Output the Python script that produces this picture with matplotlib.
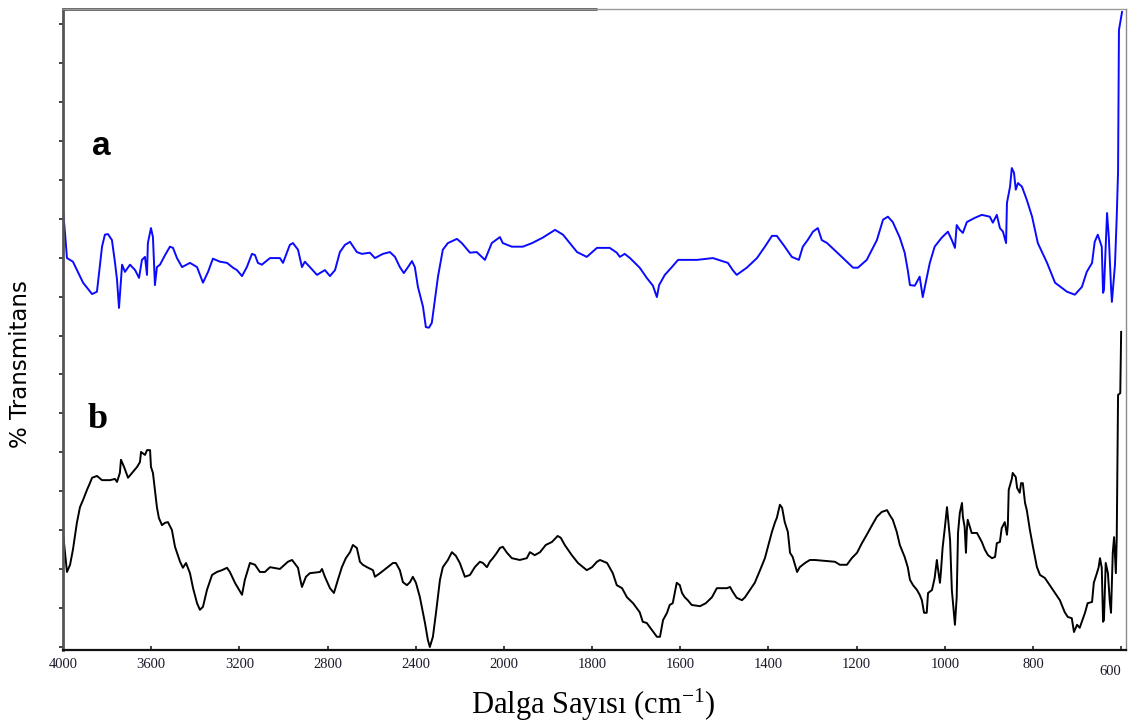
import numpy as np
import matplotlib
matplotlib.use("Agg")
import matplotlib.pyplot as plt

# FTIR spectra (wavenumber in cm-1, relative transmittance)
wn_a = [4000, 3991, 3982, 3955, 3909, 3868, 3846, 3823, 3810, 3796, 3778, 3764, 3755, 3746,
        3732, 3719, 3696, 3673, 3655, 3642, 3628, 3619, 3615, 3601, 3592, 3583, 3574, 3560,
        3537, 3515, 3501, 3483, 3460, 3424, 3392, 3365, 3342, 3320, 3288, 3256, 3229, 3211,
        3188, 3166, 3143, 3129, 3116, 3098, 3061, 3016, 3002, 2971, 2957, 2934, 2916, 2903,
        2880, 2848, 2812, 2789, 2766, 2744, 2721, 2698, 2667, 2644, 2608, 2585, 2549, 2517,
        2494, 2472, 2454, 2435, 2417, 2404, 2390, 2367, 2354, 2340, 2327, 2313, 2299, 2277,
        2254, 2213, 2191, 2154, 2123, 2086, 2055, 2018, 2005, 1982, 1957, 1936, 1912, 1884,
        1866, 1834, 1812, 1789, 1760, 1744, 1737, 1726, 1714, 1692, 1676, 1662, 1653, 1648,
        1635, 1619, 1605, 1562, 1526, 1492, 1481, 1472, 1449, 1426, 1408, 1392, 1381, 1363,
        1347, 1331, 1322, 1311, 1299, 1288, 1279, 1267, 1238, 1208, 1197, 1177, 1154, 1140,
        1129, 1118, 1102, 1091, 1084, 1079, 1068, 1057, 1050, 1043, 1034, 1023, 1007, 993,
        984, 977, 973, 966, 959, 950, 932, 916, 898, 891, 882, 875, 868, 861, 859, 852, 848,
        843, 839, 834, 825, 814, 802, 789, 768, 750, 723, 705, 689, 678, 666, 660, 653, 644,
        641, 639, 632, 628, 623, 621, 614, 610, 607, 605, 598]
t_a = [73.3, 69.5, 65.3, 64.7, 61.2, 59.3, 59.7, 67.2, 69.2, 69.3, 68.3, 64.5, 61.7, 57.0,
       64.2, 63.0, 64.2, 63.3, 62.0, 65.0, 65.5, 62.5, 67.8, 70.3, 68.8, 60.8, 63.8, 64.2,
       65.8, 67.2, 67.0, 65.3, 63.8, 64.5, 63.8, 61.2, 63.0, 65.2, 64.7, 64.5, 63.7, 63.3,
       62.3, 63.8, 66.0, 65.8, 64.5, 64.2, 65.3, 65.3, 64.5, 67.5, 67.8, 66.7, 63.8, 64.7,
       63.8, 62.5, 63.3, 62.3, 63.3, 66.3, 67.5, 68.0, 66.3, 66.0, 66.2, 65.3, 66.0, 66.3,
       65.5, 63.8, 62.8, 63.8, 64.8, 63.8, 60.5, 57.2, 53.8, 53.7, 54.5, 58.3, 62.2, 66.7,
       67.8, 68.5, 67.8, 66.2, 66.3, 65.0, 67.8, 68.8, 67.8, 67.2, 67.2, 67.8, 68.7, 70.0,
       69.2, 66.3, 65.5, 67.0, 67.0, 66.2, 65.5, 66.0, 65.3, 63.7, 62.0, 60.7, 58.8, 60.8,
       62.5, 63.8, 65.0, 65.0, 65.3, 64.5, 63.3, 62.5, 63.7, 65.3, 67.2, 69.0, 69.0, 67.2,
       65.5, 65.0, 67.2, 68.3, 69.7, 70.3, 68.3, 67.8, 65.8, 63.7, 63.7, 65.0, 68.3, 71.7,
       72.2, 71.3, 68.7, 66.2, 63.3, 60.8, 60.7, 62.2, 58.8, 61.3, 64.5, 67.2, 68.7, 69.7,
       68.3, 67.0, 70.8, 70.0, 69.5, 71.3, 72.0, 72.5, 72.2, 71.2, 72.5, 70.3, 69.7, 67.8,
       74.5, 77.2, 80.3, 79.5, 76.7, 77.8, 77.2, 75.0, 72.2, 67.8, 64.5, 61.2, 59.7, 59.2,
       60.5, 63.0, 64.5, 68.0, 69.2, 67.2, 59.5, 60.0, 72.8, 68.8, 60.5, 58.0, 64.2, 72.2,
       79.7, 103.3, 106.3]

wn_b = [4000, 3991, 3982, 3968, 3955, 3937, 3923, 3909, 3891, 3878, 3868, 3846, 3823, 3787,
        3764, 3755, 3742, 3737, 3723, 3705, 3687, 3664, 3651, 3646, 3628, 3619, 3605, 3601,
        3592, 3583, 3574, 3565, 3551, 3537, 3524, 3506, 3492, 3469, 3456, 3442, 3424, 3410,
        3392, 3379, 3365, 3347, 3324, 3302, 3279, 3256, 3243, 3220, 3188, 3175, 3152, 3129,
        3107, 3084, 3061, 3016, 2980, 2961, 2934, 2925, 2916, 2898, 2880, 2834, 2825, 2812,
        2789, 2771, 2753, 2735, 2717, 2698, 2685, 2667, 2653, 2640, 2621, 2594, 2585, 2562,
        2531, 2503, 2490, 2472, 2458, 2440, 2426, 2413, 2399, 2381, 2367, 2358, 2345, 2336,
        2322, 2308, 2290, 2277, 2254, 2236, 2218, 2200, 2177, 2154, 2132, 2109, 2095, 2077,
        2064, 2050, 2032, 2018, 2005, 1993, 1982, 1964, 1948, 1941, 1930, 1918, 1905, 1891,
        1878, 1871, 1862, 1846, 1832, 1812, 1800, 1789, 1782, 1766, 1753, 1744, 1732, 1721,
        1707, 1692, 1685, 1676, 1664, 1653, 1646, 1639, 1630, 1624, 1617, 1608, 1601, 1596,
        1590, 1583, 1574, 1555, 1542, 1528, 1517, 1506, 1494, 1487, 1481, 1472, 1460, 1453,
        1442, 1431, 1419, 1408, 1401, 1392, 1385, 1381, 1374, 1369, 1363, 1356, 1351, 1345,
        1335, 1329, 1317, 1306, 1295, 1249, 1238, 1222, 1211, 1199, 1188, 1177, 1165, 1154,
        1143, 1131, 1125, 1118, 1109, 1102, 1091, 1084, 1079, 1072, 1063, 1057, 1052, 1047,
        1041, 1038, 1029, 1023, 1018, 1016, 1011, 1009, 1005, 1000, 995, 993, 988, 984, 977,
        973, 970, 966, 961, 959, 955, 952, 950, 948, 939, 927, 916, 909, 902, 893, 886, 882,
        875, 871, 864, 859, 857, 855, 848, 846, 839, 836, 830, 827, 823, 818, 814, 807, 800,
        791, 784, 773, 762, 750, 739, 728, 721, 712, 707, 700, 694, 682, 676, 666, 662, 655,
        651, 648, 644, 641, 639, 635, 630, 626, 623, 619, 616, 612, 610, 607, 602, 600]
t_b = [19.5, 16.2, 13.0, 14.2, 16.7, 21.2, 23.8, 25.0, 26.7, 27.8, 28.7, 29.0, 28.3, 28.3,
       28.5, 28.0, 29.5, 31.7, 30.5, 28.7, 29.5, 30.5, 31.3, 33.0, 32.5, 33.3, 33.3, 30.5,
       29.5, 26.7, 23.8, 22.0, 20.8, 21.2, 21.3, 20.0, 17.2, 14.7, 13.7, 14.5, 12.8, 10.3,
       7.8, 6.7, 7.2, 10.0, 12.5, 13.0, 13.3, 13.7, 13.0, 11.2, 9.2, 11.7, 14.5, 14.2,
       13.0, 13.0, 13.8, 13.5, 14.7, 15.0, 13.7, 12.0, 10.5, 12.2, 12.8, 13.0, 13.5, 12.2,
       10.3, 9.5, 11.7, 13.8, 15.3, 16.3, 17.5, 17.0, 14.7, 14.2, 13.8, 13.3, 12.2, 12.8,
       13.7, 14.5, 14.5, 13.3, 11.3, 10.8, 11.3, 12.2, 11.2, 8.8, 6.2, 4.5, 1.7, 0.5,
       2.2, 6.2, 11.7, 13.8, 15.0, 16.3, 15.7, 14.5, 12.2, 12.5, 13.8, 14.7, 14.5, 13.8,
       14.7, 15.3, 16.2, 17.0, 17.2, 16.2, 15.3, 15.0, 15.3, 16.3, 15.8, 16.3, 17.5, 18.0,
       19.0, 18.7, 17.5, 15.8, 14.5, 13.3, 13.8, 14.7, 15.0, 14.5, 12.8, 10.8, 10.3, 8.8,
       7.8, 6.3, 4.7, 4.5, 3.3, 2.2, 2.2, 5.0, 6.2, 7.5, 7.8, 11.2, 10.8, 9.5,
       8.8, 8.3, 7.5, 7.3, 7.8, 8.8, 10.3, 10.3, 10.3, 10.5, 9.7, 8.7, 8.3, 8.8,
       10.0, 11.2, 13.3, 15.3, 17.2, 19.7, 21.3, 22.0, 24.2, 23.7, 21.3, 19.7, 16.2, 15.5,
       13.0, 13.8, 14.5, 15.0, 15.0, 14.7, 14.2, 14.2, 15.3, 16.2, 17.8, 19.2, 20.8, 22.2,
       23.0, 23.3, 22.5, 21.7, 19.7, 17.5, 15.5, 13.8, 11.7, 10.8, 10.0, 9.2, 8.3, 6.2,
       6.2, 9.5, 10.0, 12.0, 15.0, 13.8, 11.2, 12.8, 17.0, 20.3, 23.8, 22.2, 18.3, 10.0, 4.2,
       8.8, 19.5, 22.8, 24.5, 22.2, 20.5, 16.2, 20.0, 21.7, 19.5, 19.5, 18.0, 16.7, 15.8, 15.3, 15.5, 17.8,
       18.0, 20.3, 21.3, 19.2, 20.8, 26.7, 28.5, 29.5, 28.8, 27.0, 26.2, 27.8, 27.8, 24.5, 23.3, 20.0, 17.2,
       13.8, 12.5, 12.0, 10.8, 9.5, 8.3, 6.3, 5.5, 5.3, 3.0, 4.2, 3.7, 6.2, 7.8, 8.0, 11.2, 12.8,
       13.8, 15.3, 13.7, 4.7, 5.0, 14.5, 12.8, 8.3, 6.2, 16.2, 18.8, 12.8, 18.8, 42.5, 42.8, 53.0]

tick_wn = [4000, 3600, 3200, 2800, 2400, 2000, 1800, 1600, 1400, 1200, 1000, 800, 600]
tick_txt = [str(v) for v in tick_wn]


def fwd(w):
    # the wavenumber axis is expanded 2x below 2000 cm-1
    w = np.asarray(w, dtype=float)
    return np.where(w >= 2000, w, 2 * w - 2000)


def inv(u):
    u = np.asarray(u, dtype=float)
    return np.where(u >= 2000, u, (u + 2000) / 2)


plt.rcParams["mathtext.fontset"] = "custom"
plt.rcParams["mathtext.rm"] = "Liberation Serif"
plt.rcParams["mathtext.it"] = "Liberation Serif:italic"

W, H = 1128, 723
fig = plt.figure(figsize=(W / 100, H / 100), dpi=100)
ax = fig.add_axes([63 / W, 1 - 650 / H, (1126 - 63) / W, (650 - 9) / H])

ax.set_xscale("function", functions=(fwd, inv))
ax.set_xlim(4000, 589)
ax.set_ylim(0, 106.8)

ax.plot(wn_a, t_a, color="#0a0aff", lw=1.4)
ax.plot(wn_b, t_b, color="black", lw=1.4)

# axis frame
ax.spines["left"].set_color("#555555")
ax.spines["left"].set_linewidth(2.0)
ax.spines["bottom"].set_color("#111111")
ax.spines["bottom"].set_linewidth(1.6)
ax.spines["top"].set_color("#9a9a9a")
ax.spines["top"].set_linewidth(1.0)
ax.spines["right"].set_color("#8a8a8a")
ax.spines["right"].set_linewidth(1.0)
ax.plot([0, 0.502], [1, 1], transform=ax.transAxes, color="#555555", lw=2.0,
        clip_on=False, solid_capstyle="butt")

ax.set_xticks(tick_wn)
ax.set_xticklabels([])
ax.tick_params(axis="x", direction="in", length=3, width=1.2, color="#222222")
ax.set_yticks(np.linspace(0.5, 104.3, 17))
ax.set_yticklabels([])
ax.tick_params(axis="y", direction="out", length=3, width=1.2, color="#222222")

xt = ax.get_xaxis_transform()
for w, s in zip(tick_wn, tick_txt):
    if w == 600:
        yoff, ha = -0.034, "right"
    else:
        yoff, ha = -0.022, "center"
    ax.text(w, yoff, s, transform=xt, ha=ha, va="center",
            fontsize=10.5, family="Liberation Serif", color="#1a1a2a")

fig.text(92 / W, 1 - 155 / H, "a", fontsize=24, fontweight="bold",
         family=["Liberation Sans", "DejaVu Sans"], ha="left", va="baseline")
fig.text(88 / W, 1 - 428 / H, "b", fontsize=26, fontweight="bold",
         family="Liberation Serif", ha="left", va="baseline")

fig.text(21 / W, 1 - 364 / H, "% Transmitans", rotation=90, fontsize=16.5,
         family="DejaVu Sans", ha="center", va="center")
fig.text(593 / W, 1 - 714 / H, r"Dalga Sayısı (cm$^{-1}$)", fontsize=22,
         family="Liberation Serif", ha="center", va="baseline")

fig.savefig("out.png", dpi=100)
